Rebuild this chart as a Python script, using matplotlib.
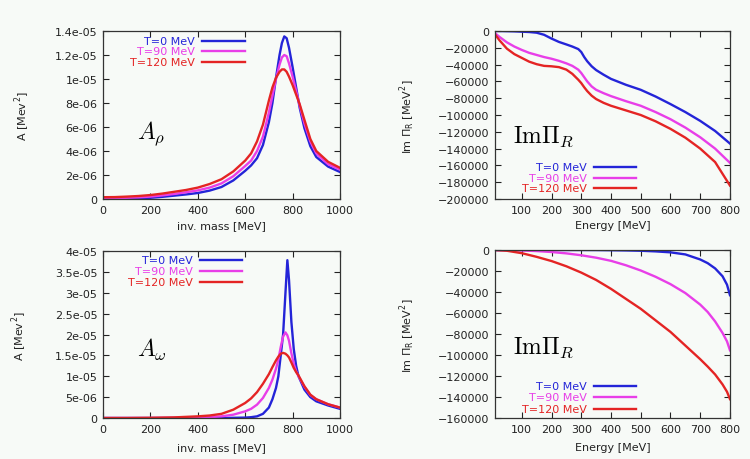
import numpy as np
import matplotlib
matplotlib.use('Agg')
import matplotlib.pyplot as plt
from matplotlib.ticker import FuncFormatter

plt.rcParams['font.family'] = ['DejaVu Sans']
plt.rcParams['mathtext.fontset'] = 'cm'

labels = ['T=0 MeV', 'T=90 MeV', 'T=120 MeV']
colors = ['#2424d8', '#e83ee8', '#e42424']

# rho spectral function, units 1e-6 MeV^-2
rho_mass = [0, 50, 100, 150, 200, 250, 300, 350, 400, 450, 500, 550, 600, 625, 650,
            675, 700, 715, 730, 745, 755, 765, 775, 785, 800, 815, 830, 850, 875, 900, 950, 1000]
rho_t0 = [0.0, 0.0, 0.02, 0.05, 0.1, 0.18, 0.28, 0.38, 0.5, 0.7, 1.0, 1.55, 2.35, 2.8, 3.4,
          4.5, 6.4, 8.0, 10.1, 12.0, 13.0, 13.55, 13.4, 12.6, 11.0, 9.3, 7.6, 5.9, 4.4, 3.5, 2.7, 2.25]
rho_t90 = [0.08, 0.08, 0.1, 0.14, 0.2, 0.3, 0.42, 0.56, 0.72, 0.95, 1.3, 1.9, 2.75, 3.2, 4.0,
           5.2, 7.2, 8.6, 10.0, 11.2, 11.8, 12.0, 11.9, 11.3, 10.2, 9.0, 7.8, 6.3, 4.8, 3.8, 2.9, 2.45]
rho_t120 = [0.15, 0.16, 0.2, 0.25, 0.33, 0.45, 0.6, 0.75, 0.95, 1.25, 1.65, 2.3, 3.2, 3.8, 4.8,
            6.2, 8.2, 9.3, 10.1, 10.6, 10.8, 10.8, 10.6, 10.2, 9.5, 8.7, 7.9, 6.6, 5.0, 4.0, 3.1, 2.6]

# omega spectral function, units 1e-5 MeV^-2
om_mass = [0, 100, 200, 300, 400, 450, 500, 550, 600, 625, 650, 675, 700, 715, 730, 740, 750,
           760, 770, 778, 785, 795, 805, 815, 825, 850, 875, 900, 950, 1000]
om_t0 = [0, 0, 0, 0, 0, 0, 0, 0.005, 0.01, 0.02, 0.04, 0.1, 0.25, 0.45, 0.72, 1.0, 1.5,
         2.0, 3.0, 3.78, 3.3, 2.3, 1.65, 1.25, 1.0, 0.68, 0.5, 0.4, 0.3, 0.22]
om_t90 = [0, 0, 0, 0.005, 0.01, 0.02, 0.04, 0.08, 0.16, 0.22, 0.32, 0.48, 0.72, 0.92, 1.18, 1.4, 1.7,
          1.95, 2.05, 1.98, 1.85, 1.55, 1.3, 1.12, 1.0, 0.75, 0.55, 0.45, 0.33, 0.25]
om_t120 = [0, 0, 0.005, 0.015, 0.04, 0.06, 0.1, 0.2, 0.36, 0.47, 0.62, 0.82, 1.05, 1.22, 1.38, 1.47, 1.54,
           1.56, 1.54, 1.5, 1.45, 1.33, 1.2, 1.1, 1.02, 0.76, 0.56, 0.45, 0.33, 0.25]

# Im Pi_R, rho (top) and omega (bottom)
e_rho = [10, 25, 50, 75, 100, 125, 150, 175, 200, 225, 250, 270, 290, 300, 310, 320, 335, 350,
         375, 400, 450, 500, 550, 600, 650, 700, 750, 800]
impi_rho_t0 = [0, 0, -200, -400, -800, -1200, -2000, -4500, -9000, -13000, -16000, -18500, -21500,
               -25000, -31000, -36000, -42000, -46500, -52000, -57000, -64000, -70000, -78000,
               -87000, -96500, -107000, -119000, -134000]
impi_rho_t90 = [-2500, -7000, -13500, -18500, -22500, -26000, -28500, -31000, -33000, -35500, -38500,
                -41500, -46000, -50000, -55000, -60000, -66000, -70000, -74000, -77500, -83500,
                -89000, -96500, -105000, -115000, -126500, -140000, -157000]
impi_rho_t120 = [-4000, -11000, -21000, -27500, -32000, -36500, -39500, -41500, -42000, -43000, -46000,
                 -51000, -58000, -62000, -67000, -71500, -77000, -81000, -85500, -89000, -94500,
                 -100000, -107500, -116500, -127000, -140000, -156000, -184000]

e_om = [10, 50, 100, 150, 200, 250, 300, 350, 400, 450, 500, 550, 600, 650, 700, 725, 750, 775, 790, 800]
impi_om_t0 = [0, 0, 0, 0, 0, 0, 0, -50, -200, -400, -700, -1300, -2200, -4200, -9000, -12500,
              -17500, -25000, -33000, -43000]
impi_om_t90 = [0, -100, -400, -1000, -1900, -3200, -5000, -7300, -10300, -14500, -19500, -25500,
               -32500, -41000, -52000, -59000, -68000, -79000, -87000, -95500]
impi_om_t120 = [0, -700, -3000, -6500, -10500, -15500, -21500, -28500, -37000, -46500, -56000, -67000,
                -78000, -91000, -104000, -111000, -118500, -128000, -135000, -142000]

bg = '#f7faf7'
fig = plt.figure(figsize=(7.5, 4.6), dpi=100, facecolor=bg)


def style(ax):
    ax.set_facecolor(bg)
    ax.tick_params(direction='in', top=True, right=True, length=4, width=0.8,
                   labelsize=8, colors='#222222', pad=4)
    for s in ax.spines.values():
        s.set_linewidth(0.9)
        s.set_color('#333333')


def key(ax, xt, ys):
    for lab, c, y in zip(labels, colors, ys):
        ax.text(xt, y, lab, color=c, fontsize=8, ha='right', va='center', transform=ax.transAxes)
        ax.plot([xt + 0.03, xt + 0.21], [y, y], color=c, lw=1.7, transform=ax.transAxes)


def sci(v, pos):
    return '0' if v == 0 else '%g' % v


# top left: A_rho
ax1 = fig.add_axes([0.1373, 0.5652, 0.316, 0.3652])
style(ax1)
for y, c in zip([rho_t0, rho_t90, rho_t120], colors):
    ax1.plot(rho_mass, np.array(y) * 1e-6, color=c, lw=1.7)
ax1.set_xlim(0, 1000)
ax1.set_ylim(0, 1.4e-5)
ax1.set_xticks(np.arange(0, 1001, 200))
ax1.set_yticks(np.arange(0, 1.41e-5, 2e-6))
ax1.yaxis.set_major_formatter(FuncFormatter(sci))
ax1.set_xlabel('inv. mass [MeV]', fontsize=8, color='#222222')
ax1.set_ylabel(r'A [Mev$^\mathregular{2}$]', fontsize=8, color='#222222')
ax1.xaxis.label.set_va('center')
ax1.yaxis.label.set_va('center')
ax1.xaxis.set_label_coords(0.5, -0.155)
ax1.yaxis.set_label_coords(-0.34, 0.5)
ax1.text(0.143, 0.40, r'$A_\rho$', fontsize=17, va='center', transform=ax1.transAxes)
key(ax1, 0.388, [0.942, 0.883, 0.817])

# top right: Im Pi_R rho
ax2 = fig.add_axes([0.66, 0.5652, 0.3133, 0.3652])
style(ax2)
for y, c in zip([impi_rho_t0, impi_rho_t90, impi_rho_t120], colors):
    ax2.plot(e_rho, y, color=c, lw=1.7)
ax2.set_xlim(10, 800)
ax2.set_ylim(-200000, 0)
ax2.set_xticks(np.arange(100, 801, 100))
ax2.set_yticks(np.arange(-200000, 1, 20000))
ax2.set_xlabel('Energy [MeV]', fontsize=8, color='#222222')
ax2.set_ylabel(r'Im $\mathregular{\Pi_R}$ [MeV$^\mathregular{2}$]', fontsize=8, color='#222222')
ax2.xaxis.label.set_va('center')
ax2.yaxis.label.set_va('center')
ax2.xaxis.set_label_coords(0.5, -0.155)
ax2.yaxis.set_label_coords(-0.37, 0.5)
ax2.text(0.077, 0.375, r'$\mathrm{Im}\Pi_R$', fontsize=17, va='center', transform=ax2.transAxes)
key(ax2, 0.39, [0.189, 0.125, 0.063])

# bottom left: A_omega
ax3 = fig.add_axes([0.1373, 0.0891, 0.316, 0.3631])
style(ax3)
for y, c in zip([om_t0, om_t90, om_t120], colors):
    ax3.plot(om_mass, np.array(y) * 1e-5, color=c, lw=1.7)
ax3.set_xlim(0, 1000)
ax3.set_ylim(0, 4e-5)
ax3.set_xticks(np.arange(0, 1001, 200))
ax3.set_yticks(np.arange(0, 4.01e-5, 5e-6))
ax3.yaxis.set_major_formatter(FuncFormatter(sci))
ax3.set_xlabel('inv. mass [MeV]', fontsize=8, color='#222222')
ax3.set_ylabel(r'A [Mev$^\mathregular{2}$]', fontsize=8, color='#222222')
ax3.xaxis.label.set_va('center')
ax3.yaxis.label.set_va('center')
ax3.xaxis.set_label_coords(0.5, -0.174)
ax3.yaxis.set_label_coords(-0.35, 0.5)
ax3.text(0.143, 0.413, r'$A_\omega$', fontsize=17, va='center', transform=ax3.transAxes)
key(ax3, 0.378, [0.948, 0.882, 0.816])

# bottom right: Im Pi_R omega
ax4 = fig.add_axes([0.66, 0.0891, 0.3133, 0.3652])
style(ax4)
for y, c in zip([impi_om_t0, impi_om_t90, impi_om_t120], colors):
    ax4.plot(e_om, y, color=c, lw=1.7)
ax4.set_xlim(10, 800)
ax4.set_ylim(-160000, 0)
ax4.set_xticks(np.arange(100, 801, 100))
ax4.set_yticks(np.arange(-160000, 1, 20000))
ax4.set_xlabel('Energy [MeV]', fontsize=8, color='#222222')
ax4.set_ylabel(r'Im $\mathregular{\Pi_R}$ [MeV$^\mathregular{2}$]', fontsize=8, color='#222222')
ax4.xaxis.label.set_va('center')
ax4.yaxis.label.set_va('center')
ax4.xaxis.set_label_coords(0.5, -0.174)
ax4.yaxis.set_label_coords(-0.37, 0.5)
ax4.text(0.077, 0.423, r'$\mathrm{Im}\Pi_R$', fontsize=17, va='center', transform=ax4.transAxes)
key(ax4, 0.39, [0.192, 0.123, 0.054])

fig.savefig('out.png', dpi=100, facecolor=bg)
